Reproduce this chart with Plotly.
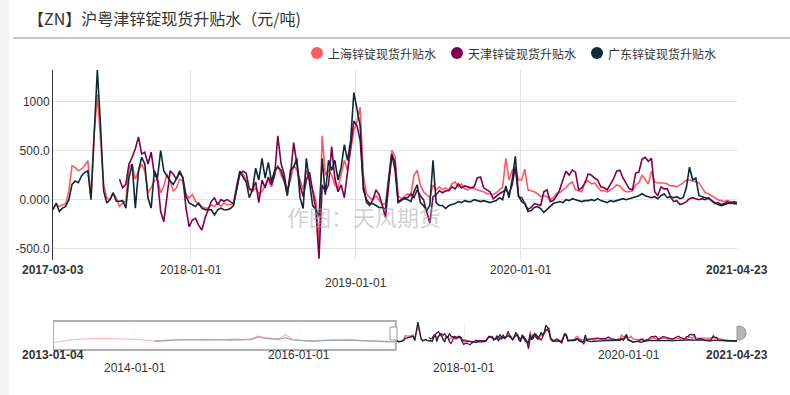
import plotly.graph_objects as go
import pandas as pd

W, H = 790, 395

# ---------------- data (元/吨), weekly from 2017-03-03 to 2021-04-23 ----------------
dates = pd.date_range("2017-03-03", "2021-04-23", freq="7D")

sh_a = [-86,-52,-69,-52,-45,86,345,328,293,310,345,397,20,672,1069,586,155,17,0,69,17,-69,-34,-17,328,362,207,293,362,293,69,121,190,207,69,138,259,190,86,121,207,190,52,17,52,-17,-52,-69,-86,-86,-52,-69,-34,-69,-34,-52]
sh_b = [-50,-40,150,280,260,200,100,80,120,60,80,150,200,130,260,350,250,180,100,200,350,300,200,100,300,200,120,0,-450,650,250,300,250,150,120,250,400,300,500,700,800,940,250,60,20,0,40,0,-50,-40,250,500,440,40,10,30]
sh_c = [60,40,250,300,150,80,50,20,150,100,130,100,120,100,160,180,130,160,110,100,120,110,100,90,80,60,60,50,70,100,130,420,200,300,320,200,200,310,100,90,80,60,30,40,30,0,20,60,70,100,120,160,180,100,90]
sh_d = [80,180,190,160,170,130,90,90,80,100,120,150,140,100,80,80,90,150,170,250,200,160,290,180,170,170,170,160,140,140,130,150,170,200,200,190,180,170,120,70,60,40,20,0,-10,-20,-10,-20,-30,-40]

tj_a = [None]*21 + [207,121,155,362,431,517,638,465,483,362,483,259,207,-121,-224,17,293,259,207,293,224,-86,-276,-207,-190,-259,-310,-190,-103,-17,17,-52,0,-17,0]
tj_b = [-20,-40,100,260,290,270,110,100,180,-30,200,120,230,150,250,650,370,260,60,250,580,360,150,30,200,280,80,-100,-600,150,80,150,540,220,80,150,20,280,580,800,750,600,150,-30,-60,0,100,50,-60,-180,150,460,300,-30,-10,20]
tj_c = [20,60,20,100,40,0,-120,-240,30,50,90,70,90,90,130,110,160,120,140,130,120,130,220,230,120,100,80,10,40,60,80,100,60,150,330,30,20,-40,-100,-80,-40,-50,-60,80,100,-20,-10,40,100,200,290,250,300,280,100]
tj_d = [120,170,260,250,220,200,130,120,100,150,210,290,300,220,160,110,100,270,280,410,430,390,420,80,40,130,110,110,30,-20,-10,-50,-40,-20,10,20,10,0,10,0,20,-10,-40,-30,-50,-40,-20,-40,-20,-30]

gd_a = [-103,-34,-121,-86,-69,0,155,190,172,241,276,293,0,672,1319,759,86,-34,0,69,-17,-17,-10,-86,224,362,-86,293,431,362,17,-86,293,224,500,293,241,190,155,224,276,224,34,-34,-52,-69,-34,-86,-103,-103,-103,-155,-103,-86,-103,-103]
gd_b = [-90,-60,130,290,230,180,20,100,320,200,420,220,380,180,300,330,300,200,40,300,330,420,20,-90,420,150,-60,-100,-170,420,50,400,300,400,200,330,560,400,600,1090,900,750,100,0,-40,-40,-60,-80,-80,-100,200,460,380,-20,0,10]
gd_c = [0,-20,80,150,-30,-60,-110,-60,400,-30,-60,-60,-90,-60,-50,-40,-20,-30,-10,-20,-20,0,-10,-20,-10,-20,-30,-20,-10,20,0,140,20,200,440,40,-20,-40,-120,-110,-80,-70,-90,-130,-100,-60,-40,-30,-20,-30,0,-10,10,0,-10]
gd_d = [-20,-10,-10,0,-10,10,-10,-20,-30,-10,-20,-10,0,10,0,10,20,30,40,60,40,30,20,30,10,40,60,20,30,20,30,10,20,120,330,200,220,40,30,20,10,-10,-30,-50,-60,-50,-40,-30,-40,-40]

sh = sh_a + sh_b + sh_c + sh_d
tj = tj_a + tj_b + tj_c + tj_d
gd = gd_a + gd_b + gd_c + gd_d
assert len(sh) == len(dates) == len(tj) == len(gd), (len(sh), len(tj), len(gd), len(dates))

# monthly history shown only in the overview strip (2013-01-04 .. 2017-02)
early_dates = [pd.Timestamp("2013-01-04")] + list(pd.date_range("2013-02-01", "2017-02-01", freq="MS"))
early_sh = [-170,-120,-20,60,100,120,130,150,140,150,130,120,
            80,40,-20,-40,0,40,60,80,60,80,90,70,
            60,80,60,90,70,120,300,200,150,120,420,80,
            20,-30,-40,0,40,60,30,60,40,0,-20,-40,
            -60,-80]
early_gd = [None]*12 + [None,None,None,-60,-20,0,20,40,20,40,50,30,
            20,40,30,50,40,60,250,150,120,80,200,40,
            0,-40,-60,-20,0,20,0,20,0,-30,-40,-60,
            -80,-100]
assert len(early_dates) == len(early_sh) == len(early_gd)

names = ["上海锌锭现货升贴水", "天津锌锭现货升贴水", "广东锌锭现货升贴水"]
colors = ["#ff5a5f", "#7b0052", "#0e2a36"]

main_x = ["2018-01-01", "2019-01-01", "2020-01-01"]
y_ticks = [-500, 0, 500, 1000]
y_text = ["-500.0", "0.000", "500.0", "1000"]
y_min, y_max = -614, 1319
start, end = "2017-03-03", "2021-04-23"
full_start = "2013-01-04"

# ---------------- figure ----------------
def fx(p):
    return p / W

def fy(p):
    return 1 - p / H

fig = go.Figure()
series = [sh, tj, gd]
for s, n, c in zip(series, names, colors):
    fig.add_trace(go.Scatter(x=dates, y=s, name=n, mode="lines",
                             line=dict(color=c, width=1.6), xaxis="x", yaxis="y",
                             showlegend=False, connectgaps=False, hoverinfo="skip"))

# overview strip
ov_x = list(early_dates) + list(dates)
ov = [early_sh + sh, [None]*len(early_dates) + tj, early_gd + gd]
for s, c in zip(ov, colors):
    fig.add_trace(go.Scatter(x=ov_x, y=s, mode="lines", line=dict(color=c, width=1.3),
                             xaxis="x2", yaxis="y2", showlegend=False, hoverinfo="skip"))

font_num = "Liberation Sans, Arial, sans-serif"
font_cjk = "Noto Sans CJK SC, sans-serif"

fig.update_layout(
    width=W, height=H, margin=dict(l=0, r=0, t=0, b=0),
    paper_bgcolor="white", plot_bgcolor="white",
    xaxis=dict(domain=[fx(53), fx(737)], range=[start, end], type="date",
               tickvals=main_x, showticklabels=False, showgrid=True,
               gridcolor="#e3e3e3", gridwidth=1, zeroline=False, showline=False, ticks=""),
    yaxis=dict(domain=[fy(260), fy(70)], range=[y_min, y_max], tickvals=y_ticks, ticktext=y_text,
               showgrid=True, gridcolor="#e3e3e3", zeroline=False, showline=True,
               linecolor="#333333", linewidth=1, ticks="",
               tickfont=dict(family=font_num, size=12, color="#333333")),
    xaxis2=dict(domain=[fx(53), fx(737)], range=[full_start, end], type="date", anchor="y2",
                tickvals=["2014-01-01", "2016-01-01", "2018-01-01", "2020-01-01"],
                showticklabels=False, showgrid=True, gridcolor="#eeeeee", zeroline=False, ticks=""),
    yaxis2=dict(domain=[fy(349), fy(322)], range=[y_min, y_max], anchor="x2",
                showticklabels=False, showgrid=False, zeroline=False, ticks=""),
    showlegend=False,
)

shapes = []
# left light strip and title rule
shapes.append(dict(type="rect", xref="paper", yref="paper", x0=0, x1=fx(9), y0=0, y1=1,
                   fillcolor="#f3f3f3", line=dict(width=0), layer="below"))
shapes.append(dict(type="line", xref="paper", yref="paper", x0=fx(13), x1=1, y0=fy(38), y1=fy(38),
                   line=dict(color="#c8c8c8", width=2)))
# legend dots
for cx, c in zip([317, 457, 597], colors):
    shapes.append(dict(type="circle", xref="paper", yref="paper",
                       x0=fx(cx - 6), x1=fx(cx + 6), y0=fy(59), y1=fy(47),
                       fillcolor=c, line=dict(width=0)))
# overview: shaded unselected window
shapes.append(dict(type="rect", xref="x2", yref="paper", x0=full_start, x1=start,
                   y0=fy(350), y1=fy(321), fillcolor="rgba(255,255,255,0.6)",
                   line=dict(color="#b0b0b0", width=2), layer="above"))
# handles
shapes.append(dict(type="rect", xref="paper", yref="paper", x0=fx(390), x1=fx(397),
                   y0=fy(340), y1=fy(327), fillcolor="white",
                   line=dict(color="#999999", width=1), layer="above"))
shapes.append(dict(type="path", xref="paper", yref="paper",
                   path=f"M {fx(737)} {fy(326)} Q {fx(746)} {fy(326)} {fx(746)} {fy(333)} Q {fx(746)} {fy(340)} {fx(737)} {fy(340)} Z",
                   fillcolor="#b5b5b5", line=dict(color="#999999", width=1), layer="above"))
fig.update_layout(shapes=shapes)

ann = []
ann.append(dict(text="【ZN】沪粤津锌锭现货升贴水（元/吨)", xref="paper", yref="paper",
                x=fx(26), y=fy(18), xanchor="left", yanchor="middle", showarrow=False,
                font=dict(family=font_cjk, size=16, color="#333333")))
for tx, n in zip([326, 466, 606], names):
    ann.append(dict(text=n, xref="paper", yref="paper", x=fx(tx), y=fy(53),
                    xanchor="left", yanchor="middle", showarrow=False,
                    font=dict(family=font_cjk, size=12, color="#333333")))
ann.append(dict(text="作图：天风期货", xref="paper", yref="paper", x=fx(364), y=fy(216),
                xanchor="center", yanchor="middle", showarrow=False,
                font=dict(family=font_cjk, size=22, color="rgba(170,170,170,0.55)")))
# main x labels
for d, yy, bold in [(start, 270, True), ("2018-01-01", 270, False), ("2019-01-01", 283, False),
                    ("2020-01-01", 270, False), (end, 270, True)]:
    ann.append(dict(text=f"<b>{d}</b>" if bold else d, xref="x", yref="paper", x=d, y=fy(yy),
                    xanchor="center", yanchor="middle", showarrow=False,
                    font=dict(family=font_num, size=12, color="#333333")))
# overview labels
for d, yy, bold in [(full_start, 355, True), ("2014-01-01", 368, False), ("2016-01-01", 355, False),
                    ("2018-01-01", 368, False), ("2020-01-01", 355, False), (end, 355, True)]:
    ann.append(dict(text=f"<b>{d}</b>" if bold else d, xref="x2", yref="paper", x=d, y=fy(yy),
                    xanchor="center", yanchor="middle", showarrow=False,
                    font=dict(family=font_num, size=12, color="#333333")))
fig.update_layout(annotations=ann)

fig.write_html("out.html", config={"displayModeBar": False},
               post_script="document.body.style.margin='0';document.body.style.overflow='hidden';")
